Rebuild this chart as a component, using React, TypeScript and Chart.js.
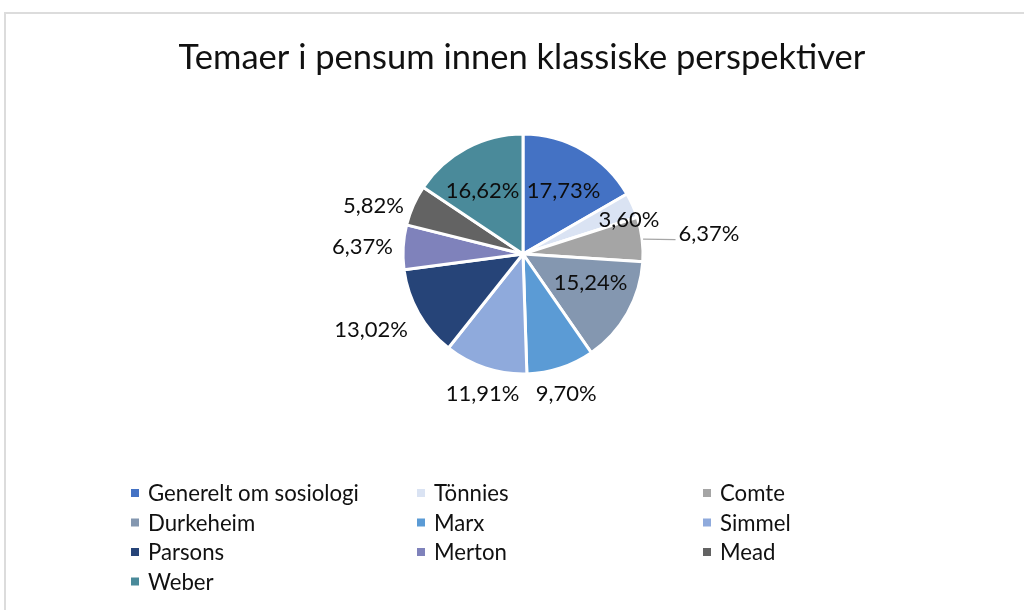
import React, { useEffect, useRef } from "react";
import { Chart, registerables } from "chart.js";

Chart.register(...registerables);

const categories = [
  "Generelt om sosiologi",
  "Tönnies",
  "Comte",
  "Durkeheim",
  "Marx",
  "Simmel",
  "Parsons",
  "Merton",
  "Mead",
  "Weber",
];
const shares = [17.73, 3.6, 6.37, 15.24, 9.7, 11.91, 13.02, 6.37, 5.82, 16.62];
const valueLabels = ["17,73%", "3,60%", "6,37%", "15,24%", "9,70%", "11,91%", "13,02%", "6,37%", "5,82%", "16,62%"];
const sliceColors = [
  "#4472C4",
  "#DAE3F3",
  "#A5A5A5",
  "#8497B0",
  "#5B9BD5",
  "#8FAADC",
  "#264478",
  "#7F82BB",
  "#636363",
  "#4A8A9A",
];
const titleText = "Temaer i pensum innen klassiske perspektiver";

// label placement relative to each slice: radius factor and angle shift (deg)
const labelRadius = [0.63, 0.93, 1.56, 0.61, 1.21, 1.21, 1.41, 1.34, 1.31, 0.63];
const labelAngleShift = [2.4, 5.5, 0.5, -6.8, 1, -2.1, 3.4, -0.4, -5.9, -4.3];
const leaderLine = [false, false, true, false, false, false, false, false, false, false];

const FONT = "Lato, 'Open Sans', sans-serif";

const titlePlugin = {
  id: "excelTitle",
  afterDraw(chart: any) {
    const ctx = chart.ctx;
    ctx.save();
    ctx.font = `34.5px ${FONT}`;
    ctx.fillStyle = "#111111";
    ctx.textAlign = "center";
    ctx.textBaseline = "alphabetic";
    ctx.fillText(titleText, 522, 69);
    ctx.restore();
  },
};

const labelPlugin = {
  id: "sliceLabels",
  afterDatasetsDraw(chart: any) {
    const ctx = chart.ctx;
    const meta = chart.getDatasetMeta(0);
    ctx.save();
    ctx.font = `22px ${FONT}`;
    ctx.fillStyle = "#0d0d0d";
    ctx.textAlign = "center";
    ctx.textBaseline = "alphabetic";
    meta.data.forEach((arc: any, i: number) => {
      const p = arc.getProps(["x", "y", "startAngle", "endAngle", "outerRadius"], true);
      const mid = (p.startAngle + p.endAngle) / 2;
      const a = mid + (labelAngleShift[i] * Math.PI) / 180;
      const r = p.outerRadius * labelRadius[i];
      const cx = p.x + Math.cos(a) * r;
      const cy = p.y + Math.sin(a) * r;
      const text = valueLabels[i];
      if (leaderLine[i]) {
        const w = ctx.measureText(text).width;
        ctx.strokeStyle = "#A6A6A6";
        ctx.lineWidth = 1.2;
        ctx.beginPath();
        ctx.moveTo(p.x + Math.cos(mid) * (p.outerRadius + 1), p.y + Math.sin(mid) * (p.outerRadius + 1));
        ctx.lineTo(cx - w / 2 - 3, cy + 7);
        ctx.stroke();
      }
      ctx.fillText(text, cx, cy + 8);
    });
    ctx.restore();
  },
};

const legendPlugin = {
  id: "gridLegend",
  afterDraw(chart: any) {
    const ctx = chart.ctx;
    const colors = chart.data.datasets[0].backgroundColor as string[];
    ctx.save();
    ctx.font = `22.2px ${FONT}`;
    ctx.textAlign = "left";
    ctx.textBaseline = "alphabetic";
    chart.data.labels.forEach((lab: string, i: number) => {
      const col = i % 3;
      const row = Math.floor(i / 3);
      const x = 131 + col * 286;
      const y = 493 + row * 29.5;
      ctx.fillStyle = colors[i];
      ctx.fillRect(x, y - 4, 8, 8);
      ctx.fillStyle = "#111111";
      ctx.fillText(lab, x + 17, y + 8);
    });
    ctx.restore();
  },
};

export default function App() {
  const canvasRef = useRef<HTMLCanvasElement | null>(null);

  useEffect(() => {
    if (!canvasRef.current) return;
    const chart = new Chart(canvasRef.current, {
      type: "pie",
      data: {
        labels: categories,
        datasets: [
          {
            data: shares,
            backgroundColor: sliceColors,
            borderColor: "#ffffff",
            borderWidth: 3,
          },
        ],
      },
      options: {
        responsive: false,
        animation: false,
        radius: 120,
        layout: { padding: { left: 393, right: 371, top: 124, bottom: 226 } },
        plugins: {
          legend: { display: false },
          title: { display: false },
          tooltip: { enabled: false },
        },
      } as any,
      plugins: [titlePlugin, labelPlugin, legendPlugin],
    });
    return () => chart.destroy();
  }, []);

  return (
    <div
      style={{
        position: "fixed",
        left: 0,
        top: 0,
        width: 1024,
        height: 610,
        overflow: "hidden",
        background: "#ffffff",
      }}
    >
      <div
        style={{
          position: "absolute",
          left: 4,
          top: 12,
          width: 1100,
          height: 700,
          border: "2px solid #DCDCDC",
          boxSizing: "border-box",
        }}
      />
      <canvas
        ref={canvasRef}
        width={1024}
        height={610}
        style={{ position: "absolute", left: 0, top: 0, width: 1024, height: 610 }}
      />
    </div>
  );
}
